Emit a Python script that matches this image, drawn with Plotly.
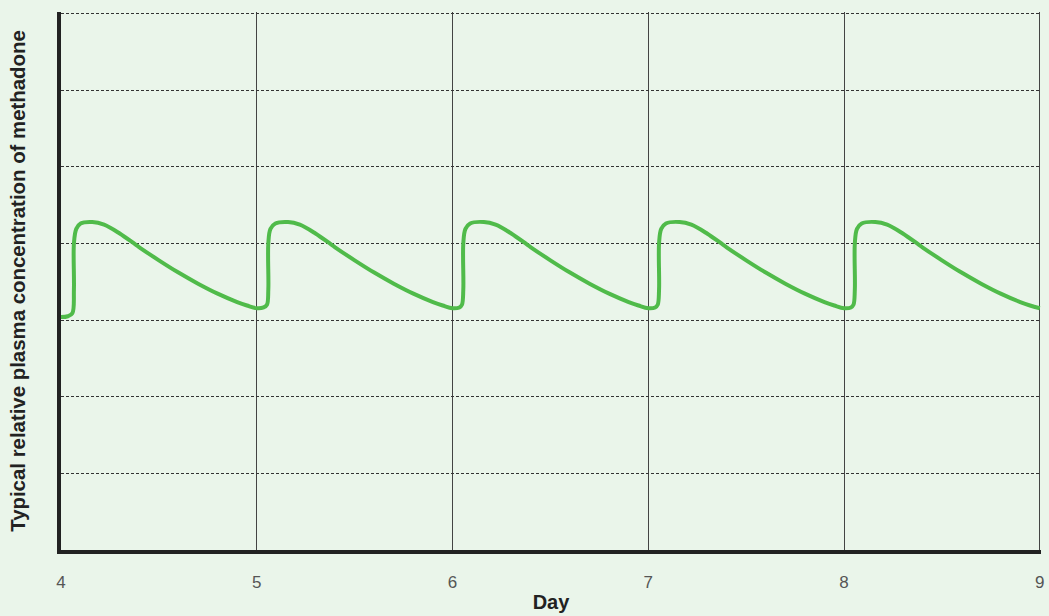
import plotly.graph_objects as go

# Days (x) and relative plasma concentration (y)
days = [
    4.00, 4.035, 4.058, 4.066, 4.066, 4.078, 4.10, 4.16, 4.22, 4.30, 4.40, 4.50, 4.60, 4.70, 4.80, 4.90, 4.95,
    5.00, 5.035, 5.052, 5.059, 5.059, 5.07, 5.095, 5.16, 5.22, 5.30, 5.40, 5.50, 5.60, 5.70, 5.80, 5.90, 5.95,
    6.00, 6.035, 6.048, 6.055, 6.055, 6.066, 6.09, 6.16, 6.22, 6.30, 6.40, 6.50, 6.60, 6.70, 6.80, 6.90, 6.95,
    7.00, 7.035, 7.048, 7.055, 7.055, 7.066, 7.09, 7.16, 7.22, 7.30, 7.40, 7.50, 7.60, 7.70, 7.80, 7.90, 7.95,
    8.00, 8.035, 8.048, 8.055, 8.055, 8.066, 8.09, 8.16, 8.22, 8.30, 8.40, 8.50, 8.60, 8.70, 8.80, 8.90, 8.95,
    9.00,
]
concentration = [
    3.04, 3.05, 3.09, 3.40, 4.00, 4.19, 4.26, 4.28, 4.245, 4.13, 3.95, 3.78, 3.62, 3.475, 3.345, 3.235, 3.19,
    3.155, 3.165, 3.20, 3.40, 4.00, 4.19, 4.26, 4.28, 4.245, 4.13, 3.95, 3.78, 3.62, 3.475, 3.345, 3.235, 3.19,
    3.155, 3.165, 3.20, 3.40, 4.00, 4.19, 4.26, 4.28, 4.245, 4.13, 3.95, 3.78, 3.62, 3.475, 3.345, 3.235, 3.19,
    3.155, 3.165, 3.20, 3.40, 4.00, 4.19, 4.26, 4.28, 4.245, 4.13, 3.95, 3.78, 3.62, 3.475, 3.345, 3.235, 3.19,
    3.155, 3.165, 3.20, 3.40, 4.00, 4.19, 4.26, 4.28, 4.245, 4.13, 3.95, 3.78, 3.62, 3.475, 3.345, 3.235, 3.19,
    3.155,
]
x_ticks = [4, 5, 6, 7, 8, 9]
x_tick_labels = ["4", "5", "6", "7", "8", "9"]

bg = "#eaf5ea"

fig = go.Figure()
fig.add_trace(go.Scatter(
    x=days, y=concentration, mode="lines",
    line=dict(color="#50bb4a", width=4, shape="spline", smoothing=1.0),
    hoverinfo="skip", showlegend=False, cliponaxis=False,
))

fig.update_layout(
    width=1049, height=616,
    paper_bgcolor=bg, plot_bgcolor=bg,
    margin=dict(l=61, r=8, t=12, b=66, autoexpand=False),
    font=dict(family="Liberation Sans, Arial, sans-serif", color="#222"),
    showlegend=False,
)
fig.update_xaxes(
    range=[4, 9.006], tickmode="array", tickvals=x_ticks, ticktext=x_tick_labels,
    showgrid=True, gridcolor="#444", gridwidth=1,
    showline=True, linecolor="#222", linewidth=4,
    ticks="", ticklabelstandoff=14, automargin=False,
    tickfont=dict(size=17, color="#555"),
    title=dict(text="<b>Day</b>", font=dict(size=20, color="#222"), standoff=5),
    zeroline=False,
)
fig.update_yaxes(
    range=[0, 7.02], dtick=1, showticklabels=False,
    showgrid=True, gridcolor="#333", gridwidth=1, griddash="3px,2px",
    showline=True, linecolor="#222", linewidth=4,
    ticks="", automargin=False,
    title=dict(text="<b>Typical relative plasma concentration of methadone</b>",
               font=dict(size=20.4, color="#222"), standoff=27),
    zeroline=False,
)

post = (
    "document.documentElement.style.margin='0';"
    "document.body.style.margin='0';"
    "document.documentElement.style.overflow='hidden';"
    "document.body.style.overflow='hidden';"
    "document.body.style.background='%s';"
    "var d=document.getElementById('{plot_id}');"
    "d.style.position='fixed';d.style.left='0';d.style.top='0';"
) % bg

fig.write_html("out.html", config={"displayModeBar": False}, post_script=post)
